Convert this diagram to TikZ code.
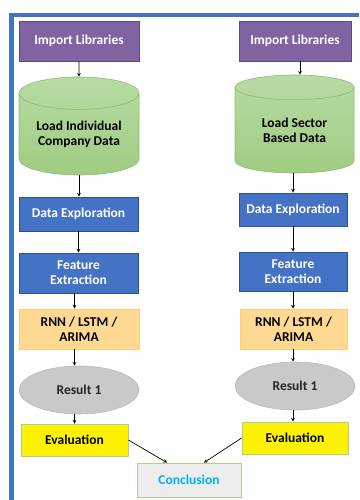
\documentclass[tikz,border=0pt]{standalone}
\usepackage{fontspec}
\setmainfont{Carlito}
\usetikzlibrary{shapes.geometric}
\definecolor{framebl}{RGB}{68,114,196}
\definecolor{purpfill}{RGB}{128,100,162}
\definecolor{purpline}{RGB}{94,74,126}
\definecolor{bluefill}{RGB}{68,114,196}
\definecolor{blueline}{RGB}{47,82,143}
\definecolor{greentop}{RGB}{184,218,163}
\definecolor{greenbot}{RGB}{160,204,130}
\definecolor{greenline}{RGB}{140,190,110}
\definecolor{orangefill}{RGB}{255,217,145}
\definecolor{orangeline}{RGB}{255,204,110}
\definecolor{grayfill}{RGB}{201,201,201}
\definecolor{grayline}{RGB}{185,185,185}
\definecolor{lightgreen}{RGB}{169,209,142}
\definecolor{conclfill}{RGB}{237,237,237}
\definecolor{concltext}{RGB}{0,176,240}
\begin{document}
\begin{tikzpicture}[x=1pt,y=-1pt,
	box/.style={rectangle,draw,line width=.8pt,font=\bfseries\fontsize{13.5}{15}\selectfont,align=center,inner sep=0pt},
	importbox/.style={box,fill=purpfill,draw=purpline,text=white},
	stepbox/.style={box,fill=bluefill,draw=blueline,text=white},
	modelbox/.style={box,fill=orangefill,draw=orangeline,text=black},
	evalbox/.style={box,fill=yellow,draw=lightgreen,text=black},
	datacyl/.style={cylinder,shape border rotate=90,aspect=.38,draw=greenline,line width=.6pt,anchor=shape center,
		top color=greentop,bottom color=greenbot,font=\bfseries\fontsize{13.5}{15}\selectfont,align=center,inner sep=0pt},
	resultell/.style={ellipse,draw=grayline,fill=grayfill,line width=.6pt,inner sep=0pt,
		font=\bfseries\fontsize{13.5}{15}\selectfont,text=black!85},
	arr/.style={-stealth,line width=.7pt}]
\useasboundingbox (0,0) rectangle (359,500);
% outer frame
\draw[framebl,line width=4.5pt] (11.5,500) -- (11.5,15) -- (359,15);
% left column
\node[importbox,minimum width=120,minimum height=40] (imp1) at (79,41) {Import Libraries};
\node[datacyl,minimum width=120,minimum height=98] (load1) at (79,126) {Load Individual\\Company Data};
\node[stepbox,minimum width=119,minimum height=34] (exp1) at (78.5,214) {Data Exploration};
\node[stepbox,minimum width=119,minimum height=40] (feat1) at (78.5,273) {Feature\\Extraction};
\node[modelbox,minimum width=120,minimum height=40] (mod1) at (79,329) {RNN / LSTM /\\ARIMA};
\node[resultell,minimum width=120,minimum height=48] (res1) at (79,390) {Result 1};
\node[evalbox,minimum width=107,minimum height=32] (eval1) at (74.5,440) {Evaluation};
% right column
\node[importbox,minimum width=112,minimum height=40] (imp2) at (295,41) {Import Libraries};
\node[datacyl,minimum width=119,minimum height=98] (load2) at (294.5,124) {Load Sector\\Based Data};
\node[stepbox,minimum width=108,minimum height=33] (exp2) at (293,209.5) {Data Exploration};
\node[stepbox,minimum width=108,minimum height=39] (feat2) at (293,271.5) {Feature\\Extraction};
\node[modelbox,minimum width=107,minimum height=40] (mod2) at (293.5,329) {RNN / LSTM /\\ARIMA};
\node[resultell,minimum width=120,minimum height=48] (res2) at (295,386) {Result 1};
\node[evalbox,minimum width=106,minimum height=32] (eval2) at (295,438) {Evaluation};
% conclusion
\node[box,fill=conclfill,draw=lightgreen,text=concltext,minimum width=104,minimum height=34] (concl) at (189,480) {Conclusion};
% arrows
\draw[arr] (imp1) -- (load1.north);
\draw[arr] (load1.south) -- (exp1.north -| load1.south);
\draw[arr] (exp1) -- (feat1);
\draw[arr] (feat1.south -| eval1) -- (mod1.north -| eval1);
\draw[arr] (mod1.south -| eval1) -- (res1.north -| eval1);
\draw[arr] (res1.south -| eval1) -- (eval1);
\draw[arr] ([xshift=5pt]imp2.south) -- ([xshift=5pt]imp2.south |- load2.north);
\draw[arr] (load2.south -| exp2) -- (exp2);
\draw[arr] (exp2) -- (feat2);
\draw[arr] (feat2) -- (mod2.north -| feat2);
\draw[arr] (mod2.south -| feat2) -- (res2.north -| feat2);
\draw[arr] (res2.south -| feat2) -- (eval2.north -| feat2);
\draw[arr] (eval1.east) -- ([xshift=-22pt]concl.north);
\draw[arr] (eval2.west) -- ([xshift=15pt]concl.north);
\end{tikzpicture}
\end{document}
